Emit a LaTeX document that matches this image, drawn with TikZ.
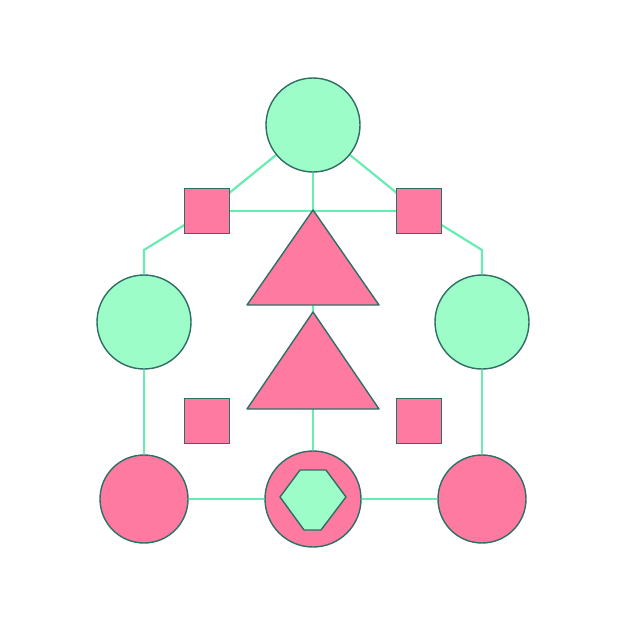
\documentclass[tikz,border=0pt]{standalone}
\usetikzlibrary{backgrounds}
\definecolor{mint}{RGB}{157,253,200}
\definecolor{rose}{RGB}{255,122,160}
\definecolor{rim}{RGB}{46,110,100}
\definecolor{wire}{RGB}{104,236,178}
\tikzset{
  ball/.style={circle,draw=rim,line width=1.4pt,inner sep=0pt},
  box/.style={rectangle,draw=rim,fill=rose,line width=1.4pt,minimum size=45pt,inner sep=0pt},
  wire/.style={draw=wire,line width=2.2pt}
}
\begin{document}
\begin{tikzpicture}[x=1pt,y=-1pt]
\useasboundingbox (0,0) rectangle (626,626);
\node[ball,fill=mint,minimum size=94pt] (top) at (313,125) {};
\node[ball,fill=mint,minimum size=94pt] (midl) at (144,322) {};
\node[ball,fill=mint,minimum size=94pt] (midr) at (482,322) {};
\node[ball,fill=rose,minimum size=88pt] (botl) at (144,499) {};
\node[ball,fill=rose,minimum size=96pt] (botm) at (313,499) {};
\node[ball,fill=rose,minimum size=88pt] (botr) at (482,499) {};
\node[box] (sql) at (207,211) {};
\node[box] (sqr) at (419,211) {};
\node[box] (sqll) at (207,421) {};
\node[box] (sqlr) at (419,421) {};
% triangles
\coordinate (tipa) at (313,210);
\coordinate (basea) at (313,305);
\coordinate (tipb) at (313,312);
\coordinate (baseb) at (313,409);
\coordinate (kneel) at (144,250);
\coordinate (kneer) at (482,250);
\draw[rim,fill=rose,line width=1.4pt,line join=round] (tipa) -- (379,305) -- (247,305) -- cycle;
\draw[rim,fill=rose,line width=1.4pt,line join=round] (tipb) -- (379,409) -- (247,409) -- cycle;
\draw[rim,fill=mint,line width=1.4pt,line join=round] (300,470) -- (326,470) -- (346,497) -- (321,530) -- (304,530) -- (280,497) -- cycle;
\begin{pgfonlayer}{background}
\draw[wire] (top.center) -- (sql.center);
\draw[wire] (top.center) -- (sqr.center);
\draw[wire] (top) -- (tipa);
\draw[wire] (sql) -- (sqr);
\draw[wire] (sql.center) -- (kneel) -- (midl);
\draw[wire] (sqr.center) -- (kneer) -- (midr);
\draw[wire] (basea) -- (tipb);
\draw[wire] (midl) -- (botl);
\draw[wire] (midr) -- (botr);
\draw[wire] (baseb) -- (botm);
\draw[wire] (botl) -- (botm);
\draw[wire] (botm) -- (botr);
\end{pgfonlayer}
\end{tikzpicture}
\end{document}
